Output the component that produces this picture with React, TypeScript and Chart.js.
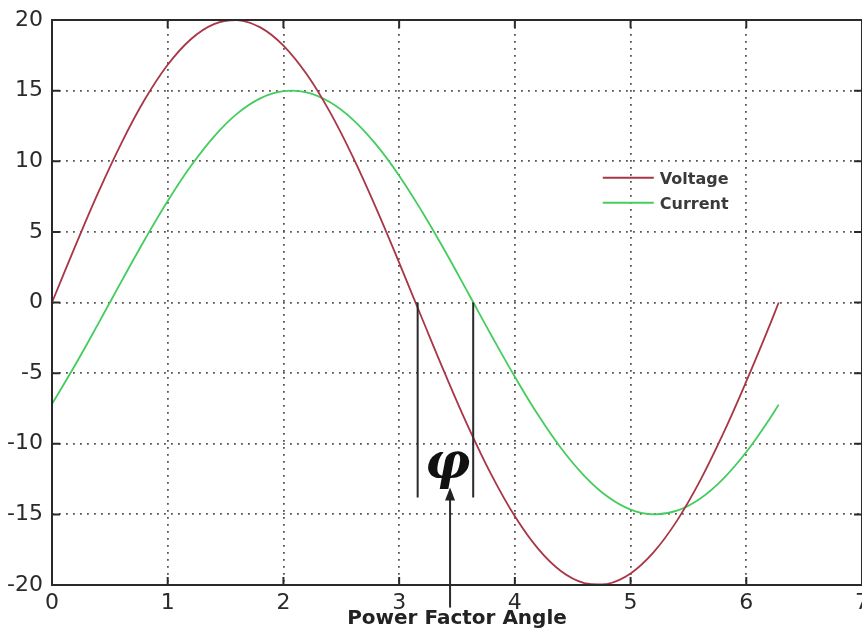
import { useEffect, useRef } from "react";
import { Chart, registerables } from "chart.js";

Chart.register(...registerables);

// ---- data ----
const xValues = [0, 0.2, 0.4, 0.6, 0.8, 1.0, 1.2, 1.4, 1.6, 1.8, 2.0, 2.2, 2.4, 2.6, 2.8, 3.0, 3.2, 3.4, 3.6, 3.8, 4.0, 4.2, 4.4, 4.6, 4.8, 5.0, 5.2, 5.4, 5.6, 5.8, 6.0, 6.2, 6.28];
const voltage = [0, 3.97, 7.79, 11.29, 14.35, 16.83, 18.64, 19.71, 19.99, 19.48, 18.19, 16.17, 13.51, 10.31, 6.7, 2.82, -1.17, -5.11, -8.85, -12.24, -15.14, -17.43, -19.03, -19.87, -19.92, -19.18, -17.67, -15.46, -12.63, -9.29, -5.59, -1.66, 0];
const current = [-7.19, -4.43, -1.5, 1.5, 4.43, 7.19, 9.66, 11.75, 13.37, 14.45, 14.96, 14.88, 14.19, 12.95, 11.19, 8.98, 6.41, 3.59, 0.62, -2.37, -5.26, -7.95, -10.32, -12.27, -13.74, -14.66, -15.0, -14.74, -13.89, -12.48, -10.58, -8.26, -7.23];
const seriesNames = ["Voltage", "Current"];
const seriesColors = ["#a83646", "#44cc5e"];
const xRange = [0, 7];
const yRange = [-20, 20];
const xStep = 1;
const yStep = 5;
const axisTitle = "Power Factor Angle";

// annotation values (data units)
const phaseLabel = "φ";
const phaseLinesX = [3.16, 3.64];
const phaseLineTop = 0;
const phaseLineBottom = -13.8;
const phaseLabelX = 3.42;
const phaseLabelY = -12.4;
const arrowX = 3.44;
const arrowTipY = -13.1;
const arrowTailY = -21.6;

const TICK_FONT = { family: "'DejaVu Sans', sans-serif", size: 22 };
const INK = "#2a2a2a";

const framePlugin = {
  id: "frame",
  afterDatasetsDraw(chart: any) {
    const { ctx, chartArea: a, scales } = chart;
    const xs = scales.x;
    const ys = scales.y;
    const len = 8;
    ctx.save();
    ctx.strokeStyle = INK;
    ctx.lineWidth = 2;
    ctx.beginPath();
    xs.ticks.forEach((t: any) => {
      const px = xs.getPixelForValue(t.value);
      ctx.moveTo(px, a.bottom);
      ctx.lineTo(px, a.bottom - len);
      ctx.moveTo(px, a.top);
      ctx.lineTo(px, a.top + len);
    });
    ys.ticks.forEach((t: any) => {
      const py = ys.getPixelForValue(t.value);
      ctx.moveTo(a.left, py);
      ctx.lineTo(a.left + len, py);
      ctx.moveTo(a.right, py);
      ctx.lineTo(a.right - len, py);
    });
    ctx.stroke();
    ctx.strokeRect(a.left, a.top, a.right - a.left, a.bottom - a.top);
    ctx.restore();
  },
};

const annotationPlugin = {
  id: "phaseAnnotation",
  afterDraw(chart: any) {
    const { ctx, scales } = chart;
    const xs = scales.x;
    const ys = scales.y;
    ctx.save();
    ctx.strokeStyle = INK;
    ctx.fillStyle = "#222";
    ctx.lineWidth = 2;
    ctx.beginPath();
    phaseLinesX.forEach((xv) => {
      const px = xs.getPixelForValue(xv);
      ctx.moveTo(px, ys.getPixelForValue(phaseLineTop));
      ctx.lineTo(px, ys.getPixelForValue(phaseLineBottom));
    });
    ctx.stroke();

    // arrow
    const ax = xs.getPixelForValue(arrowX);
    const tip = ys.getPixelForValue(arrowTipY);
    const tail = ys.getPixelForValue(arrowTailY);
    const headLen = 13;
    const headHalf = 5;
    ctx.beginPath();
    ctx.moveTo(ax, tail);
    ctx.lineTo(ax, tip + headLen - 2);
    ctx.stroke();
    ctx.beginPath();
    ctx.moveTo(ax, tip);
    ctx.lineTo(ax - headHalf, tip + headLen);
    ctx.lineTo(ax + headHalf, tip + headLen);
    ctx.closePath();
    ctx.fill();

    // phi label
    ctx.fillStyle = "#111";
    ctx.font = "italic bold 50px 'DejaVu Serif', 'Liberation Serif', serif";
    ctx.textAlign = "center";
    ctx.textBaseline = "alphabetic";
    ctx.fillText(phaseLabel, xs.getPixelForValue(phaseLabelX), ys.getPixelForValue(phaseLabelY));
    ctx.restore();
  },
};

const legendPlugin = {
  id: "insideLegend",
  afterDraw(chart: any) {
    const { ctx, chartArea: a } = chart;
    const w = a.right - a.left;
    const h = a.bottom - a.top;
    const x0 = a.left + 0.68 * w;
    const y0 = a.top + 0.279 * h;
    const rowGap = 25;
    const lineLen = 51;
    ctx.save();
    ctx.font = "bold 16px 'DejaVu Sans', sans-serif";
    ctx.textBaseline = "middle";
    ctx.textAlign = "left";
    chart.data.datasets.forEach((ds: any, i: number) => {
      const y = y0 + i * rowGap;
      ctx.strokeStyle = ds.borderColor;
      ctx.lineWidth = 2;
      ctx.beginPath();
      ctx.moveTo(x0, y);
      ctx.lineTo(x0 + lineLen, y);
      ctx.stroke();
      ctx.fillStyle = "#3a3a3a";
      ctx.fillText(ds.label, x0 + lineLen + 6, y + 2);
    });
    ctx.restore();
  },
};

export default function App() {
  const ref = useRef<HTMLCanvasElement>(null);

  useEffect(() => {
    const canvas = ref.current;
    if (!canvas) return;
    const series = [voltage, current];
    const chart = new Chart(canvas, {
      type: "line",
      data: {
        datasets: series.map((vals, i) => ({
          label: seriesNames[i],
          data: xValues.map((x, j) => ({ x, y: vals[j] })),
          borderColor: seriesColors[i],
          backgroundColor: seriesColors[i],
          borderWidth: 1.8,
          pointRadius: 0,
          tension: 0.4,
          fill: false,
        })),
      },
      options: {
        animation: false,
        responsive: true,
        maintainAspectRatio: false,
        events: [],
        layout: { padding: { top: 20, right: -1, left: 0, bottom: 0 } },
        plugins: {
          legend: { display: false },
          tooltip: { enabled: false },
        },
        scales: {
          x: {
            type: "linear",
            min: xRange[0],
            max: xRange[1],
            ticks: {
              stepSize: xStep,
              padding: 5,
              font: TICK_FONT,
              color: INK,
              maxRotation: 0,
              autoSkip: false,
            },
            grid: { color: "#555", lineWidth: 1.8, drawTicks: false },
            border: { display: false, dash: [1.8, 5.2] },
            title: {
              display: true,
              text: axisTitle,
              color: "#222",
              font: { family: "'DejaVu Sans', sans-serif", size: 20, weight: "bold" },
              padding: { top: 0, bottom: 2 },
            },
            afterFit: (s: any) => {
              s.height = 48;
              s.paddingLeft = 0;
              s.paddingRight = 0;
            },
          },
          y: {
            type: "linear",
            min: yRange[0],
            max: yRange[1],
            ticks: {
              stepSize: yStep,
              padding: 9,
              font: TICK_FONT,
              color: INK,
            },
            grid: { color: "#555", lineWidth: 1.8, drawTicks: false },
            border: { display: false, dash: [1.8, 5.2] },
            afterFit: (s: any) => {
              s.width = 52;
              s.paddingTop = 0;
              s.paddingBottom = 0;
            },
          },
        },
      } as any,
      plugins: [framePlugin, annotationPlugin, legendPlugin],
    });
    return () => chart.destroy();
  }, []);

  return (
    <div
      style={{
        position: "absolute",
        left: 0,
        top: 0,
        width: 862,
        height: 633,
        background: "#fff",
      }}
    >
      <canvas ref={ref} />
    </div>
  );
}
